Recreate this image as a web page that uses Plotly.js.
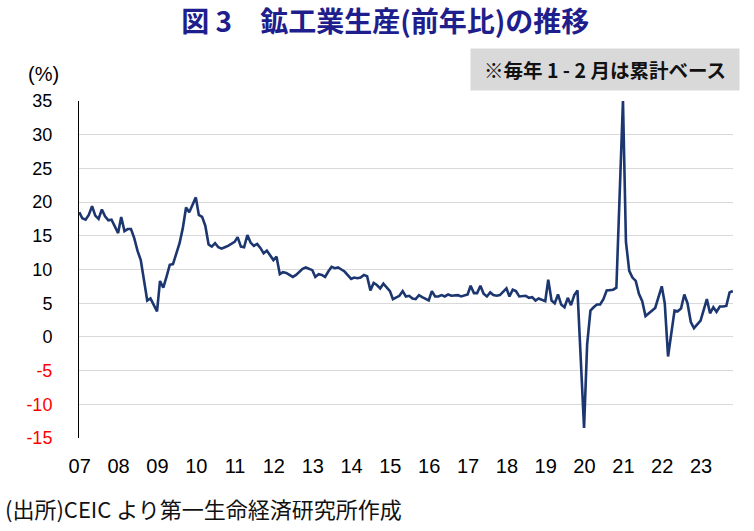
<!DOCTYPE html>
<html>
<head>
<meta charset="utf-8">
<script src="https://cdn.plot.ly/plotly-3.0.1.min.js"></script>
<style>
html,body{margin:0;padding:0;background:#fff;}
#chart{width:754px;height:531px;}
</style>
</head>
<body>
<div id="chart"></div>
<script>
// China industrial production, % y/y (Jan-Feb cumulative shown at Feb); months Feb..Dec per year
const years = [2007,2008,2009,2010,2011,2012,2013,2014,2015,2016,2017,2018,2019,2020,2021,2022,2023];
const ip2007 = [18.5,17.6,17.4,18.1,19.4,18.0,17.5,18.9,17.9,17.3,17.4];
const ip2008 = [15.4,17.8,15.7,16.0,16.0,14.7,12.8,11.4,8.2,5.4,5.7];
const ip2009 = [3.8,8.3,7.3,8.9,10.7,10.8,12.3,13.9,16.1,19.2,18.5];
const ip2010 = [20.7,18.1,17.8,16.5,13.7,13.4,13.9,13.3,13.1,13.3,13.5];
const ip2011 = [14.1,14.8,13.4,13.3,15.1,14.0,13.5,13.8,13.2,12.4,12.8];
const ip2012 = [11.4,11.9,9.3,9.6,9.5,9.2,8.9,9.2,9.6,10.1,10.3];
const ip2013 = [9.9,8.9,9.3,9.2,8.9,9.7,10.4,10.2,10.3,10.0,9.7];
const ip2014 = [8.6,8.8,8.7,8.8,9.2,9.0,6.9,8.0,7.7,7.2,7.9];
const ip2015 = [6.8,5.6,5.9,6.1,6.8,6.0,6.1,5.7,5.6,6.2,5.9];
const ip2016 = [5.4,6.8,6.0,6.0,6.2,6.0,6.3,6.1,6.1,6.2,6.0];
const ip2017 = [6.3,7.6,6.5,6.5,7.6,6.4,6.0,6.6,6.2,6.1,6.2];
const ip2018 = [7.2,6.0,7.0,6.8,6.0,6.0,6.1,5.8,5.9,5.4,5.7];
const ip2019 = [5.3,8.5,5.4,5.0,6.3,4.8,4.4,5.8,4.7,6.2,6.9];
const ip2020 = [-13.5,-1.1,3.9,4.4,4.8,4.8,5.6,6.9,6.9,7.0,7.3];
const ip2021 = [35.1,14.1,9.8,8.8,8.3,6.4,5.3,3.1,3.5,3.8,4.3];
const ip2022 = [7.5,5.0,-2.9,0.7,3.9,3.8,4.2,6.3,5.0,2.2,1.3];
const ip2023 = [2.4,3.9,5.6,3.5,4.4,3.7,4.5,4.5,4.6,6.6,6.8];
const yearValues = [ip2007,ip2008,ip2009,ip2010,ip2011,ip2012,ip2013,ip2014,ip2015,ip2016,ip2017,ip2018,ip2019,ip2020,ip2021,ip2022,ip2023];
const xTickLabels = ['07','08','09','10','11','12','13','14','15','16','17','18','19','20','21','22','23'];
const yTickVals = [-15,-10,-5,0,5,10,15,20,25,30,35];

const pad = n => (n < 10 ? '0' + n : '' + n);
const x = [], y = [];
years.forEach((yr, i) => {
  yearValues[i].forEach((v, j) => {
    x.push(yr + '-' + pad(j + 2) + '-01');
    y.push(v);
  });
});

const labelPos = years.map(yr => yr + '-02-05');
const tickPos = years.slice(1).map(yr => yr + '-01-01');
const yTickText = yTickVals.map(v => v < 0 ? '<span style="color:#ff0000">' + v + '</span>' : '' + v);

const xRange = ['2007-01-29', '2023-12-03'];

const trace = {
  x: x, y: y, type: 'scatter', mode: 'lines',
  line: {color: '#1c3670', width: 2.6},
  hoverinfo: 'x+y', showlegend: false
};

const layout = {
  width: 754, height: 531,
  margin: {l: 79, r: 21, t: 101, b: 93},
  paper_bgcolor: '#ffffff', plot_bgcolor: '#ffffff',
  font: {family: 'Liberation Sans, Arial, sans-serif', color: '#000000'},
  title: {
    text: '<b>図 3\u2002\u2002鉱工業生産(前年比)の推移</b>',
    font: {family: 'Noto Sans CJK JP, sans-serif', size: 28, color: '#1e1e8c'},
    x: 0.511, xref: 'container', xanchor: 'center',
    y: 0.958, yref: 'container', yanchor: 'middle'
  },
  xaxis: {
    type: 'date', range: xRange,
    showgrid: false, showline: false, zeroline: false, ticks: '',
    tickmode: 'array', tickvals: labelPos, ticktext: xTickLabels,
    tickfont: {size: 20, family: 'Liberation Sans, Arial, sans-serif'},
    ticklabelstandoff: 14
  },
  xaxis2: {
    type: 'date', range: xRange, overlaying: 'x',
    anchor: 'free', position: 0.3, side: 'bottom',
    showgrid: false, zeroline: false,
    showline: true, linecolor: '#000000', linewidth: 1,
    ticks: 'inside', ticklen: 9, tickwidth: 1, tickcolor: '#222222',
    tickmode: 'array', tickvals: tickPos, showticklabels: false
  },
  yaxis: {
    range: [-15, 35], showgrid: true, gridcolor: '#d9d9d9', gridwidth: 1,
    zeroline: false, showline: true, linecolor: '#000000', linewidth: 1,
    ticks: '', tickmode: 'array', tickvals: yTickVals, ticktext: yTickText,
    tickfont: {size: 18, family: 'Liberation Sans, Arial, sans-serif'},
    ticklabelstandoff: 22
  },
  annotations: [
    {
      text: '(%)', xref: 'paper', yref: 'paper', x: -0.055, y: 1.08,
      xanchor: 'center', yanchor: 'middle', showarrow: false,
      font: {size: 20, family: 'Liberation Sans, Arial, sans-serif'}
    },
    {
      text: '<b>※毎年 1 - 2 月は累計ベース</b>', xref: 'paper', yref: 'paper',
      x: 0.804, y: 1.092, xanchor: 'center', yanchor: 'middle', showarrow: false,
      bgcolor: '#d9d9d9', width: 260, height: 33, borderpad: 4,
      font: {size: 19.5, family: 'Noto Sans CJK JP, sans-serif', color: '#111111'}
    },
    {
      text: '(出所)CEIC より第一生命経済研究所作成', xref: 'paper', yref: 'paper',
      x: -0.116, y: -0.2077, xanchor: 'left', yanchor: 'middle', showarrow: false,
      font: {size: 22, family: 'Noto Sans CJK JP, sans-serif', color: '#111111'}
    }
  ]
};

Plotly.newPlot('chart', [trace], layout, {displayModeBar: false, staticPlot: true});
</script>
</body>
</html>
